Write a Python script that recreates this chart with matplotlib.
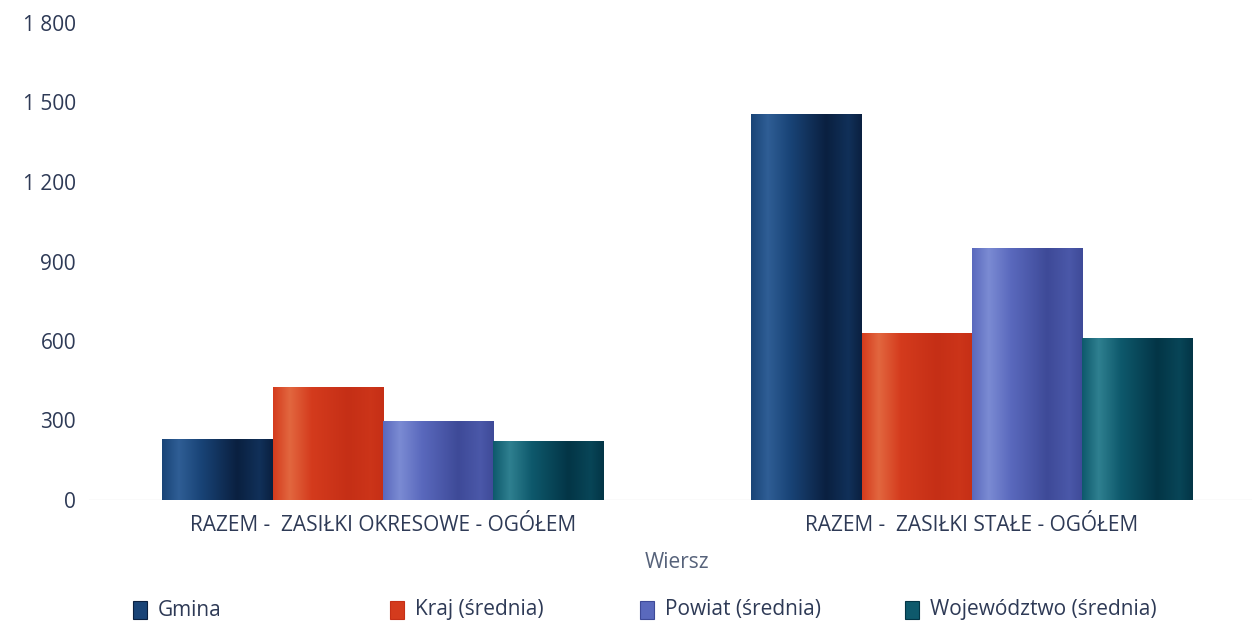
#!/usr/bin/env python3
"""Zasiłki - Gmina vs średnie (Kraj, Powiat, Województwo)."""

import matplotlib
matplotlib.use('Agg')
import matplotlib.pyplot as plt
import matplotlib.ticker as ticker
from matplotlib.colors import LinearSegmentedColormap, to_rgb
from matplotlib.patches import Rectangle
import numpy as np

plt.rcParams['font.family'] = ['Open Sans', 'DejaVu Sans']

# Data
categories = ['RAZEM -  ZASIŁKI OKRESOWE - OGÓŁEM', 'RAZEM -  ZASIŁKI STAŁE - OGÓŁEM']
series = ['Gmina', 'Kraj (średnia)', 'Powiat (średnia)', 'Województwo (średnia)']
gmina = [230, 1457]
kraj = [426, 630]
powiat = [298, 951]
wojewodztwo = [223, 611]
values = [gmina, kraj, powiat, wojewodztwo]
y_ticks = [0, 300, 600, 900, 1200, 1500, 1800]

# Styles: (highlight, base, dark) per series
SHADES = [
    ('#2f5e95', '#194477', '#0a2040'),
    ('#e2673f', '#d43b1d', '#c52f16'),
    ('#7b8bd3', '#5a69bd', '#3e4a98'),
    ('#2f8090', '#0e596c', '#033546'),
]
TEXT_C = '#2e3a56'
LABEL_C = '#56627a'

W, H = 1252, 628
fig = plt.figure(figsize=(W / 100, H / 100), dpi=100)
fig.patch.set_facecolor('white')

left_px, right_px, top_px, bot_px = 88.5, 1252, 23, 500
ax = fig.add_axes([left_px / W, 1 - bot_px / H, (right_px - left_px) / W, (bot_px - top_px) / H])
cat_px = 589.0


def mix(a, b, t):
    a, b = np.array(to_rgb(a)), np.array(to_rgb(b))
    return tuple(a + (b - a) * t)


def make_cmap(shade):
    hi, base, dark = shade
    stops = [(0.0, to_rgb(base)), (0.15, to_rgb(hi)), (0.35, to_rgb(base)),
             (0.68, to_rgb(dark)), (0.88, mix(dark, base, 0.45)), (1.0, to_rgb(dark))]
    return LinearSegmentedColormap.from_list('cyl', stops)


x = np.arange(len(categories))
bw = 0.1875
grad = np.linspace(0, 1, 256).reshape(1, -1)
for i, (vals, shade) in enumerate(zip(values, SHADES)):
    offs = (i - 1.5) * bw
    bars = ax.bar(x + offs, vals, bw, color=shade[1], linewidth=0, zorder=2)
    cmap = make_cmap(shade)
    for bar in bars:
        x0, w_, h_ = bar.get_x(), bar.get_width(), bar.get_height()
        im = ax.imshow(grad, cmap=cmap, aspect='auto', extent=(x0, x0 + w_, 0, h_),
                       zorder=3, interpolation='bilinear')
        im.set_clip_path(bar)

ax.set_xlim(-0.5, -0.5 + (right_px - left_px) / cat_px)
ax.set_ylim(0, 1800)
ax.set_yticks(y_ticks)
ax.yaxis.set_major_formatter(ticker.FuncFormatter(lambda v, p: f'{int(v):,}'.replace(',', ' ')))
ax.set_xticks(x)
ax.set_xticklabels(categories)
ax.tick_params(axis='both', length=0, labelsize=15, labelcolor=TEXT_C)
ax.tick_params(axis='y', pad=9)
ax.tick_params(axis='x', pad=11)
for s in ax.spines.values():
    s.set_visible(False)
ax.axhline(0, color='#e6e6e6', linewidth=1, zorder=1)

fig.text(677 / W, 1 - 563 / H, 'Wiersz', ha='center', va='center', fontsize=15, color=LABEL_C)

# Legend
leg_x = [133, 390, 640, 905]
for lx, name, shade in zip(leg_x, series, SHADES):
    fig.patches.append(Rectangle((lx / W, 1 - 619 / H), 14 / W, 18 / H, transform=fig.transFigure,
                                 facecolor=shade[1], edgecolor=shade[2], linewidth=0.8))
    fig.text((lx + 25) / W, 1 - 610 / H, name, ha='left', va='center', fontsize=15, color=TEXT_C)

fig.savefig('out.png', dpi=100)
